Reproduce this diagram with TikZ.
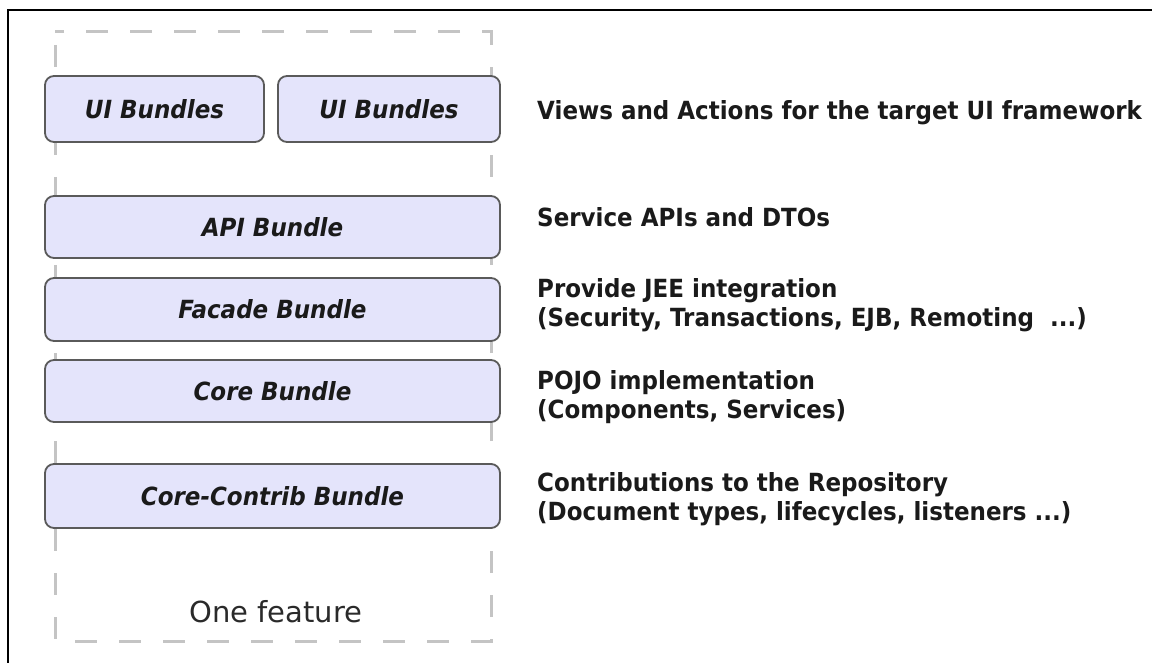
\documentclass[tikz,border=0pt]{standalone}
\usepackage{fontspec}
\setmainfont{DejaVu Sans}
\newfontfamily\condfont{DejaVu Sans}[FakeStretch=0.92]
\definecolor{boxfill}{HTML}{E4E4FB}
\definecolor{boxborder}{HTML}{5A5A5A}
\definecolor{dashgray}{HTML}{C4C4C4}
\definecolor{textcol}{HTML}{1A1A1A}
\definecolor{featcol}{HTML}{2A2A2A}
\begin{document}
\begin{tikzpicture}[x=1pt,y=-1pt,
  bundle/.style={draw=boxborder, fill=boxfill, line width=1.8pt, rounded corners=9pt,
    inner sep=0pt, text=textcol, font=\condfont\bfseries\itshape\fontsize{25}{29}\selectfont},
  desc/.style={anchor=base west, inner sep=0pt, text=textcol,
    font=\condfont\bfseries\fontsize{25}{29}\selectfont},
  frameline/.style={line width=2.6pt, black},
  featurebox/.style={draw=dashgray, line width=3pt, dash pattern=on 22pt off 22pt, dash phase=31pt}]
\useasboundingbox (0,0) rectangle (1152,663);
% outer frame
\draw[frameline] (8,663) -- (8,10) -- (1152,10);
% dashed feature box
\coordinate (fa) at (55,32);
\coordinate (fb) at (491,641);
\draw[featurebox] (fa) rectangle (fb);
% bundles
\node[bundle, minimum width=219pt, minimum height=66pt] (ui1) at (154.5,109) {UI Bundles};
\node[bundle, minimum width=222pt, minimum height=66pt] (ui2) at (389,109) {UI Bundles};
\node[bundle, minimum width=455pt, minimum height=62pt] (api) at (272.5,227) {API Bundle};
\node[bundle, minimum width=455pt, minimum height=63pt] (facade) at (272.5,309.5) {Facade Bundle};
\node[bundle, minimum width=455pt, minimum height=62pt] (core) at (272.5,391) {Core Bundle};
\node[bundle, minimum width=455pt, minimum height=64pt] (contrib) at (272.5,496) {Core-Contrib Bundle};
% feature label
\node[inner sep=0pt, text=featcol, font=\fontsize{29}{34}\selectfont] (feature) at (276,612) {One feature};
% descriptions
\node[desc] (d1) at (537,120) {Views and Actions for the target UI framework};
\node[desc] (d2) at (537,227) {Service APIs and DTOs};
\node[desc] (d3) at (537,298) {\vtop{\hbox{Provide JEE integration}\hbox{(Security, Transactions, EJB, Remoting \ ...)}}};
\node[desc] (d4) at (537,389) {\vtop{\hbox{POJO implementation}\hbox{(Components, Services)}}};
\node[desc] (d5) at (537,491) {\vtop{\hbox{Contributions to the Repository}\hbox{(Document types, lifecycles, listeners ...)}}};
\end{tikzpicture}
\end{document}
